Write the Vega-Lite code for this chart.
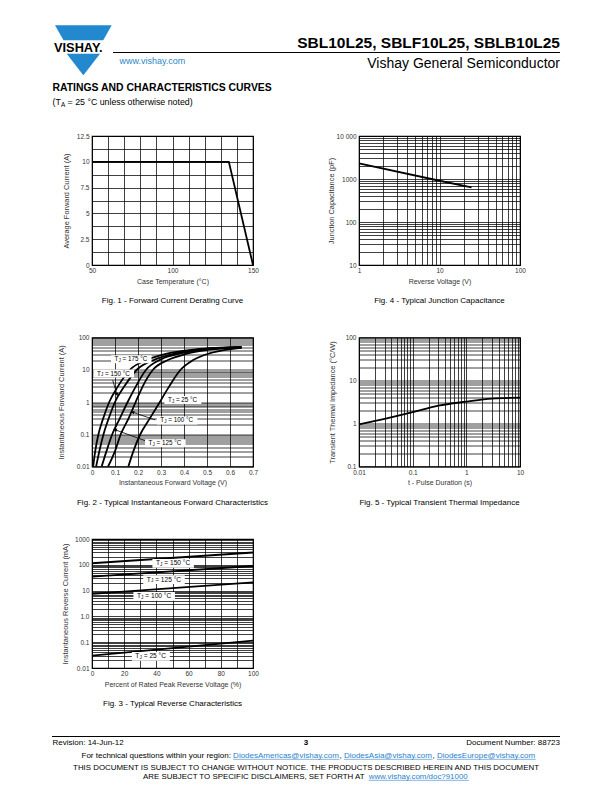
{
  "$schema": "https://vega.github.io/schema/vega-lite/v6.json",
  "background": "white",
  "padding": 0,
  "autosize": {"type": "pad"},
  "bounds": "flush",
  "columns": 2,
  "spacing": {"row": 72.5, "column": 106},
  "concat": [
    {
      "width": 161,
      "height": 129,
      "title": {"text": "Fig. 1 - Forward Current Derating Curve", "fontWeight": "normal"},
      "data": {"values": [
        {"temp": 50, "current": 10},
        {"temp": 135, "current": 10},
        {"temp": 150, "current": 0}
      ]},
      "mark": {"type": "line", "color": "black", "strokeWidth": 1.8, "strokeJoin": "miter"},
      "encoding": {
        "x": {"field": "temp", "type": "quantitative",
          "scale": {"domain": [50, 150], "nice": false, "zero": false},
          "axis": {"title": "Case Temperature (°C)", "values": [50, 60, 70, 80, 90, 100, 110, 120, 130, 140, 150],
            "labelExpr": "datum.value % 50 === 0 ? '' + datum.value : ''"}},
        "y": {"field": "current", "type": "quantitative",
          "scale": {"domain": [0, 12.5], "nice": false},
          "axis": {"title": "Average Forward Current (A)", "titlePadding": 6,
            "values": [0, 1.25, 2.5, 3.75, 5, 6.25, 7.5, 8.75, 10, 11.25, 12.5],
            "labelExpr": "datum.value % 2.5 === 0 ? '' + datum.value : ''"}}
      }
    },
    {
      "width": 161,
      "height": 129,
      "title": {"text": "Fig. 4 - Typical Junction Capacitance", "fontWeight": "normal"},
      "data": {"values": [
        {"v": 1, "c": 2300},
        {"v": 10, "c": 910},
        {"v": 25, "c": 640}
      ]},
      "mark": {"type": "line", "color": "black", "strokeWidth": 1.9},
      "encoding": {
        "x": {"field": "v", "type": "quantitative",
          "scale": {"type": "log", "domain": [1, 100], "nice": false},
          "axis": {"title": "Reverse Voltage (V)",
            "values": [1, 2, 3, 4, 5, 6, 7, 8, 9, 10, 20, 30, 40, 50, 60, 70, 80, 90, 100],
            "labelExpr": "indexof([1, 10, 100], datum.value) >= 0 ? '' + datum.value : ''"}},
        "y": {"field": "c", "type": "quantitative",
          "scale": {"type": "log", "domain": [10, 10000], "nice": false},
          "axis": {"title": "Junction Capacitance (pF)", "titlePadding": 1,
            "values": [10, 20, 30, 40, 50, 60, 70, 80, 90, 100, 200, 300, 400, 500, 600, 700, 800, 900, 1000, 2000, 3000, 4000, 5000, 6000, 7000, 8000, 9000, 10000],
            "labelExpr": "datum.value == 10000 ? '10 000' : (indexof([10, 100, 1000], datum.value) >= 0 ? '' + datum.value : '')"}}
      }
    },
    {
      "width": 161,
      "height": 129,
      "title": {"text": "Fig. 2 - Typical Instantaneous Forward Characteristics", "fontWeight": "normal"},
      "encoding": {
        "x": {"field": "v", "type": "quantitative",
          "scale": {"domain": [0, 0.7], "nice": false, "zero": false},
          "axis": {"title": "Instantaneous Forward Voltage (V)",
            "values": [0, 0.1, 0.2, 0.3, 0.4, 0.5, 0.6, 0.7],
            "labelExpr": "'' + datum.value"}},
        "y": {"field": "i", "type": "quantitative",
          "scale": {"type": "log", "domain": [0.01, 100], "nice": false},
          "axis": {"title": "Instantaneous Forward Current (A)", "titlePadding": 11,
            "values": [0.01, 0.02, 0.03, 0.04, 0.05, 0.06, 0.07, 0.08, 0.09, 0.1, 0.2, 0.3, 0.4, 0.5, 0.6, 0.7, 0.8, 0.9, 1, 2, 3, 4, 5, 6, 7, 8, 9, 10, 20, 30, 40, 50, 60, 70, 80, 90, 100],
            "labelExpr": "indexof([0.01, 0.1, 1, 10, 100], datum.value) >= 0 ? '' + datum.value : ''"}}
      },
      "layer": [
        {
          "data": {"values": [
            {"tj": "175", "v": 0.005, "i": 0.01}, {"tj": "175", "v": 0.014, "i": 0.03}, {"tj": "175", "v": 0.028, "i": 0.1},
            {"tj": "175", "v": 0.048, "i": 0.3}, {"tj": "175", "v": 0.075, "i": 1}, {"tj": "175", "v": 0.112, "i": 3},
            {"tj": "175", "v": 0.165, "i": 10}, {"tj": "175", "v": 0.245, "i": 21}, {"tj": "175", "v": 0.33, "i": 32},
            {"tj": "175", "v": 0.45, "i": 43}, {"tj": "175", "v": 0.65, "i": 51},
            {"tj": "150", "v": 0.018, "i": 0.01}, {"tj": "150", "v": 0.032, "i": 0.03}, {"tj": "150", "v": 0.05, "i": 0.1},
            {"tj": "150", "v": 0.072, "i": 0.3}, {"tj": "150", "v": 0.1, "i": 1}, {"tj": "150", "v": 0.14, "i": 3},
            {"tj": "150", "v": 0.195, "i": 10}, {"tj": "150", "v": 0.275, "i": 21}, {"tj": "150", "v": 0.36, "i": 32},
            {"tj": "150", "v": 0.47, "i": 43}, {"tj": "150", "v": 0.65, "i": 50},
            {"tj": "125", "v": 0.042, "i": 0.01}, {"tj": "125", "v": 0.063, "i": 0.03}, {"tj": "125", "v": 0.088, "i": 0.1},
            {"tj": "125", "v": 0.12, "i": 0.3}, {"tj": "125", "v": 0.155, "i": 1}, {"tj": "125", "v": 0.19, "i": 3},
            {"tj": "125", "v": 0.235, "i": 10}, {"tj": "125", "v": 0.3, "i": 21}, {"tj": "125", "v": 0.385, "i": 32},
            {"tj": "125", "v": 0.49, "i": 43}, {"tj": "125", "v": 0.65, "i": 49.5},
            {"tj": "100", "v": 0.07, "i": 0.01}, {"tj": "100", "v": 0.1, "i": 0.03}, {"tj": "100", "v": 0.125, "i": 0.1},
            {"tj": "100", "v": 0.158, "i": 0.3}, {"tj": "100", "v": 0.19, "i": 1}, {"tj": "100", "v": 0.22, "i": 3},
            {"tj": "100", "v": 0.265, "i": 10}, {"tj": "100", "v": 0.33, "i": 20}, {"tj": "100", "v": 0.41, "i": 31},
            {"tj": "100", "v": 0.51, "i": 42}, {"tj": "100", "v": 0.65, "i": 49},
            {"tj": "25", "v": 0.158, "i": 0.01}, {"tj": "25", "v": 0.18, "i": 0.03}, {"tj": "25", "v": 0.21, "i": 0.1},
            {"tj": "25", "v": 0.25, "i": 0.3}, {"tj": "25", "v": 0.295, "i": 1}, {"tj": "25", "v": 0.335, "i": 3},
            {"tj": "25", "v": 0.385, "i": 10}, {"tj": "25", "v": 0.44, "i": 20}, {"tj": "25", "v": 0.51, "i": 32},
            {"tj": "25", "v": 0.585, "i": 42}, {"tj": "25", "v": 0.65, "i": 48}
          ]},
          "mark": {"type": "line", "color": "black", "strokeWidth": 1.8, "interpolate": "monotone"},
          "encoding": {"detail": {"field": "tj", "type": "nominal"}}
        },
        {
          "data": {"values": [
            {"v": 0.09, "i": 4.75, "v2": 0.1085, "i2": 1.72},
            {"v": 0.275, "i": 0.279, "v2": 0.1766, "i2": 0.481},
            {"v": 0.2316, "i": 0.063, "v2": 0.101, "i2": 0.1375}
          ]},
          "mark": {"type": "rule", "color": "black", "strokeWidth": 0.8},
          "encoding": {"x2": {"field": "v2"}, "y2": {"field": "i2"}}
        },
        {
          "data": {"values": [{"v": 0.1085, "i": 1.72}]},
          "mark": {"type": "point", "shape": "triangle-right", "filled": true, "color": "black", "size": 14, "angle": 73, "opacity": 1}
        },
        {
          "data": {"values": [{"v": 0.1766, "i": 0.481}, {"v": 0.101, "i": 0.1375}]},
          "mark": {"type": "point", "shape": "triangle-right", "filled": true, "color": "black", "size": 14, "angle": 199, "opacity": 1}
        },
        {
          "data": {"values": [
            {"lab": "= 175 °C", "v": 0.098, "i": 21},
            {"lab": "= 150 °C", "v": 0.022, "i": 7.6},
            {"lab": "= 25 °C", "v": 0.33, "i": 1.15},
            {"lab": "= 100 °C", "v": 0.297, "i": 0.267},
            {"lab": "= 125 °C", "v": 0.246, "i": 0.0522}
          ]},
          "layer": [
            {"transform": [{"filter": "length(datum.lab) > 7"}],
             "mark": {"type": "point", "shape": "M -0.35 -0.4 L 3.7 -0.4 L 3.7 0.4 L -0.35 0.4 Z", "size": 400, "filled": true, "color": "white", "opacity": 1, "strokeWidth": 0}},
            {"transform": [{"filter": "length(datum.lab) <= 7"}],
             "mark": {"type": "point", "shape": "M -0.35 -0.4 L 3.35 -0.4 L 3.35 0.4 L -0.35 0.4 Z", "size": 400, "filled": true, "color": "white", "opacity": 1, "strokeWidth": 0}},
            {"mark": {"type": "text", "align": "left", "baseline": "middle", "fontSize": 6.3, "color": "black", "text": "T"}},
            {"mark": {"type": "text", "align": "left", "baseline": "middle", "fontSize": 4.5, "color": "black", "text": "J", "dx": 4, "dy": 1.6}},
            {"mark": {"type": "text", "align": "left", "baseline": "middle", "fontSize": 6.3, "color": "black", "dx": 8},
             "encoding": {"text": {"field": "lab"}}}
          ]
        }
      ]
    },
    {
      "width": 161,
      "height": 129,
      "title": {"text": "Fig. 5 - Typical Transient Thermal Impedance", "fontWeight": "normal"},
      "data": {"values": [
        {"t": 0.01, "z": 0.95},
        {"t": 0.03, "z": 1.28},
        {"t": 0.1, "z": 1.83},
        {"t": 0.3, "z": 2.6},
        {"t": 1, "z": 3.22},
        {"t": 3, "z": 3.78},
        {"t": 10, "z": 3.98}
      ]},
      "mark": {"type": "line", "color": "black", "strokeWidth": 1.8, "interpolate": "monotone"},
      "encoding": {
        "x": {"field": "t", "type": "quantitative",
          "scale": {"type": "log", "domain": [0.01, 10], "nice": false},
          "axis": {"title": "t - Pulse Duration (s)",
            "values": [0.01, 0.02, 0.03, 0.04, 0.05, 0.06, 0.07, 0.08, 0.09, 0.1, 0.2, 0.3, 0.4, 0.5, 0.6, 0.7, 0.8, 0.9, 1, 2, 3, 4, 5, 6, 7, 8, 9, 10],
            "labelExpr": "indexof([0.01, 0.1, 1, 10], datum.value) >= 0 ? '' + datum.value : ''"}},
        "y": {"field": "z", "type": "quantitative",
          "scale": {"type": "log", "domain": [0.1, 100], "nice": false},
          "axis": {"title": "Transient Thermal Impedance (°C/W)", "titlePadding": 9,
            "values": [0.1, 0.2, 0.3, 0.4, 0.5, 0.6, 0.7, 0.8, 0.9, 1, 2, 3, 4, 5, 6, 7, 8, 9, 10, 20, 30, 40, 50, 60, 70, 80, 90, 100],
            "labelExpr": "indexof([0.1, 1, 10, 100], datum.value) >= 0 ? '' + datum.value : ''"}}
      }
    },
    {
      "width": 161,
      "height": 129,
      "title": {"text": "Fig. 3 - Typical Reverse Characteristics", "fontWeight": "normal"},
      "encoding": {
        "x": {"field": "p", "type": "quantitative",
          "scale": {"domain": [0, 100], "nice": false, "zero": false},
          "axis": {"title": "Percent of Rated Peak Reverse Voltage (%)",
            "values": [0, 10, 20, 30, 40, 50, 60, 70, 80, 90, 100],
            "labelExpr": "datum.value % 20 === 0 ? '' + datum.value : ''"}},
        "y": {"field": "i", "type": "quantitative",
          "scale": {"type": "log", "domain": [0.01, 1000], "nice": false},
          "axis": {"title": "Instantaneous Reverse Current (mA)", "titlePadding": 5.5,
            "values": [0.01, 0.02, 0.03, 0.04, 0.05, 0.06, 0.07, 0.08, 0.09, 0.1, 0.2, 0.3, 0.4, 0.5, 0.6, 0.7, 0.8, 0.9, 1, 2, 3, 4, 5, 6, 7, 8, 9, 10, 20, 30, 40, 50, 60, 70, 80, 90, 100, 200, 300, 400, 500, 600, 700, 800, 900, 1000],
            "labelExpr": "datum.value == 1 ? '1.0' : (indexof([0.01, 0.1, 10, 100, 1000], datum.value) >= 0 ? '' + datum.value : '')"}}
      },
      "layer": [
        {
          "data": {"values": [
            {"tj": "150", "p": 0, "i": 115}, {"tj": "150", "p": 100, "i": 300},
            {"tj": "125", "p": 0, "i": 35}, {"tj": "125", "p": 100, "i": 90},
            {"tj": "100", "p": 0, "i": 7.4}, {"tj": "100", "p": 100, "i": 21},
            {"tj": "25", "p": 0, "i": 0.03}, {"tj": "25", "p": 100, "i": 0.115}
          ]},
          "mark": {"type": "line", "color": "black", "strokeWidth": 1.8},
          "encoding": {"detail": {"field": "tj", "type": "nominal"}}
        },
        {
          "data": {"values": [
            {"lab": "= 150 °C", "p": 39.7, "i": 114},
            {"lab": "= 125 °C", "p": 34, "i": 26.5},
            {"lab": "= 100 °C", "p": 27.9, "i": 6.0},
            {"lab": "= 25 °C", "p": 26.9, "i": 0.0283}
          ]},
          "layer": [
            {"transform": [{"filter": "length(datum.lab) > 7"}],
             "mark": {"type": "point", "shape": "M -0.35 -0.44 L 3.8 -0.44 L 3.8 0.44 L -0.35 0.44 Z", "size": 400, "filled": true, "color": "white", "opacity": 1, "strokeWidth": 0}},
            {"transform": [{"filter": "length(datum.lab) <= 7"}],
             "mark": {"type": "point", "shape": "M -0.35 -0.44 L 3.45 -0.44 L 3.45 0.44 L -0.35 0.44 Z", "size": 400, "filled": true, "color": "white", "opacity": 1, "strokeWidth": 0}},
            {"mark": {"type": "text", "align": "left", "baseline": "middle", "fontSize": 6.6, "color": "black", "text": "T"}},
            {"mark": {"type": "text", "align": "left", "baseline": "middle", "fontSize": 4.7, "color": "black", "text": "J", "dx": 4.2, "dy": 1.7}},
            {"mark": {"type": "text", "align": "left", "baseline": "middle", "fontSize": 6.6, "color": "black", "dx": 8.4},
             "encoding": {"text": {"field": "lab"}}}
          ]
        }
      ]
    },
    {
      "width": 161,
      "height": 129,
      "view": {"stroke": null},
      "encoding": {
        "x": {"field": "x", "type": "quantitative", "scale": {"domain": [359, 520], "nice": false, "zero": false}, "axis": null},
        "y": {"field": "y", "type": "quantitative", "scale": {"domain": [539, 668], "reverse": true, "nice": false, "zero": false}, "axis": null}
      },
      "layer": [
        {
          "data": {"values": [{"x": 0, "y": 0, "x2": 612, "y2": 792}]},
          "mark": {"type": "rect", "fill": "white", "fillOpacity": 0, "strokeOpacity": 0},
          "encoding": {"x2": {"field": "x2"}, "y2": {"field": "y2"}}
        },
        {
          "data": {"values": [
            {"part": "top", "y": 25.3, "x": 55, "x2": 111.7},
            {"part": "top", "y": 40.3, "x": 63.5, "x2": 103.2},
            {"part": "bottom", "y": 53.7, "x": 66.7, "x2": 100},
            {"part": "bottom", "y": 75.3, "x": 83.3, "x2": 83.4}
          ]},
          "mark": {"type": "area", "orient": "horizontal", "color": "#2389cf"},
          "encoding": {"x2": {"field": "x2"}, "detail": {"field": "part", "type": "nominal"}}
        },
        {
          "data": {"values": [
            {"x": 113, "y": 52.5, "x2": 560, "y2": 52.5},
            {"x": 52, "y": 736.5, "x2": 560, "y2": 736.5}
          ]},
          "mark": {"type": "rule", "color": "black", "strokeWidth": 1},
          "encoding": {"x2": {"field": "x2"}, "y2": {"field": "y2"}}
        },
        {
          "data": {"values": [
            {"x": 233.1, "y": 759.3, "x2": 339.5, "y2": 759.3},
            {"x": 343.9, "y": 759.3, "x2": 432.5, "y2": 759.3},
            {"x": 436.9, "y": 759.3, "x2": 535.7, "y2": 759.3},
            {"x": 368.7, "y": 780.3, "x2": 468.8, "y2": 780.3}
          ]},
          "mark": {"type": "rule", "color": "#2a7fc9", "strokeWidth": 0.6},
          "encoding": {"x2": {"field": "x2"}, "y2": {"field": "y2"}}
        },
        {
          "data": {"values": [{"x": 560, "y": 47.5, "t": "SBL10L25, SBLF10L25, SBLB10L25"}]},
          "mark": {"type": "text", "align": "right", "baseline": "alphabetic", "fontSize": 15.5, "fontWeight": "bold", "color": "black"},
          "encoding": {"text": {"field": "t"}}
        },
        {
          "data": {"values": [{"x": 560, "y": 68, "t": "Vishay General Semiconductor"}]},
          "mark": {"type": "text", "align": "right", "baseline": "alphabetic", "fontSize": 14, "color": "black"},
          "encoding": {"text": {"field": "t"}}
        },
        {
          "data": {"values": [{"x": 119.5, "y": 63.5, "t": "www.vishay.com"}]},
          "mark": {"type": "text", "align": "left", "baseline": "alphabetic", "fontSize": 9, "color": "#2b86c9"},
          "encoding": {"text": {"field": "t"}}
        },
        {
          "data": {"values": [{"x": 54, "y": 51.5, "t": "VISHAY."}]},
          "mark": {"type": "text", "align": "left", "baseline": "alphabetic", "fontSize": 12.8, "fontWeight": "bold", "color": "black"},
          "encoding": {"text": {"field": "t"}}
        },
        {
          "data": {"values": [{"x": 52.5, "y": 90.5, "t": "RATINGS AND CHARACTERISTICS CURVES"}]},
          "mark": {"type": "text", "align": "left", "baseline": "alphabetic", "fontSize": 10.4, "fontWeight": "bold", "color": "black"},
          "encoding": {"text": {"field": "t"}}
        },
        {
          "data": {"values": [
            {"x": 52.5, "y": 105, "t": "(T"},
            {"x": 67.6, "y": 105, "t": "= 25 °C unless otherwise noted)"}
          ]},
          "mark": {"type": "text", "align": "left", "baseline": "alphabetic", "fontSize": 8.8, "color": "black"},
          "encoding": {"text": {"field": "t"}}
        },
        {
          "data": {"values": [{"x": 60.9, "y": 107, "t": "A"}]},
          "mark": {"type": "text", "align": "left", "baseline": "alphabetic", "fontSize": 6.4, "color": "black"},
          "encoding": {"text": {"field": "t"}}
        },
        {
          "data": {"values": [
            {"x": 52.5, "y": 744.5, "t": "Revision: 14-Jun-12"},
            {"x": 81.5, "y": 758, "t": "For technical questions within your region:"},
            {"x": 339.5, "y": 758, "t": ","},
            {"x": 432.5, "y": 758, "t": ","}
          ]},
          "mark": {"type": "text", "align": "left", "baseline": "alphabetic", "fontSize": 8, "color": "black"},
          "encoding": {"text": {"field": "t"}}
        },
        {
          "data": {"values": [
            {"x": 233.1, "y": 758, "t": "DiodesAmericas@vishay.com"},
            {"x": 343.9, "y": 758, "t": "DiodesAsia@vishay.com"},
            {"x": 436.9, "y": 758, "t": "DiodesEurope@vishay.com"}
          ]},
          "mark": {"type": "text", "align": "left", "baseline": "alphabetic", "fontSize": 8, "color": "#2a7fc9"},
          "encoding": {"text": {"field": "t"}}
        },
        {
          "data": {"values": [{"x": 560, "y": 744.5, "t": "Document Number: 88723"}]},
          "mark": {"type": "text", "align": "right", "baseline": "alphabetic", "fontSize": 8, "color": "black"},
          "encoding": {"text": {"field": "t"}}
        },
        {
          "data": {"values": [{"x": 306, "y": 744.5, "t": "3"}]},
          "mark": {"type": "text", "align": "center", "baseline": "alphabetic", "fontSize": 8, "fontWeight": "bold", "color": "black"},
          "encoding": {"text": {"field": "t"}}
        },
        {
          "data": {"values": [{"x": 306, "y": 770, "t": "THIS DOCUMENT IS SUBJECT TO CHANGE WITHOUT NOTICE. THE PRODUCTS DESCRIBED HEREIN AND THIS DOCUMENT"}]},
          "mark": {"type": "text", "align": "center", "baseline": "alphabetic", "fontSize": 7.9, "color": "black"},
          "encoding": {"text": {"field": "t"}}
        },
        {
          "data": {"values": [{"x": 143.1, "y": 779, "t": "ARE SUBJECT TO SPECIFIC DISCLAIMERS, SET FORTH AT"}]},
          "mark": {"type": "text", "align": "left", "baseline": "alphabetic", "fontSize": 7.9, "color": "black"},
          "encoding": {"text": {"field": "t"}}
        },
        {
          "data": {"values": [{"x": 368.7, "y": 779, "t": "www.vishay.com/doc?91000"}]},
          "mark": {"type": "text", "align": "left", "baseline": "alphabetic", "fontSize": 7.9, "color": "#2a7fc9"},
          "encoding": {"text": {"field": "t"}}
        }
      ]
    }
  ],
  "config": {
    "font": "Liberation Sans",
    "view": {"stroke": "black", "strokeWidth": 1.2},
    "axis": {
      "grid": true, "gridColor": "black", "gridWidth": 0.75, "gridOpacity": 1,
      "ticks": false, "domain": false,
      "labelFont": "Liberation Sans", "labelFontSize": 6.5, "labelColor": "#333",
      "titleFont": "Liberation Sans", "titleFontSize": 7, "titleFontWeight": "normal", "titleColor": "#333",
      "labelFlush": false, "labelOverlap": false, "labelPadding": 2.5, "titlePadding": 3
    },
    "axisY": {"labelPadding": 3, "titleFontSize": 7.4},
    "title": {"font": "Liberation Sans", "fontSize": 8, "fontWeight": "normal", "color": "black", "orient": "bottom", "anchor": "middle", "offset": 13, "frame": "group"}
  }
}
